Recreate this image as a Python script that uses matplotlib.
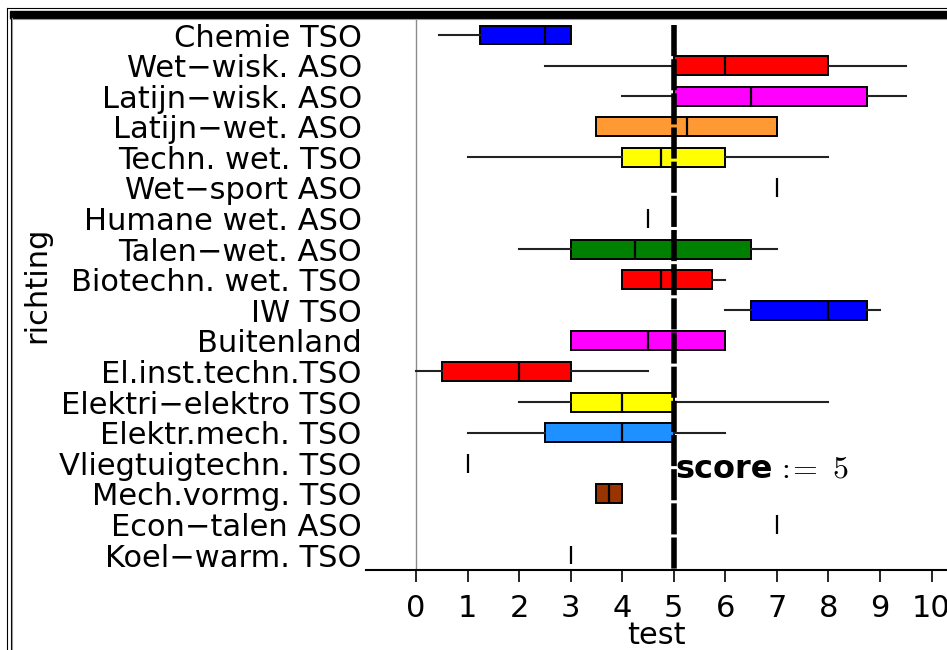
import matplotlib
matplotlib.use("Agg")
from matplotlib import pyplot as plt
from matplotlib.lines import Line2D
from matplotlib.patches import Rectangle

plt.rcParams['font.family'] = ['DejaVu Sans']
plt.rcParams['mathtext.fontset'] = 'cm'

# richtingen van boven naar onder
richting = ["Chemie TSO", "Wet−wisk. ASO", "Latijn−wisk. ASO", "Latijn−wet. ASO",
            "Techn. wet. TSO", "Wet−sport ASO", "Humane wet. ASO", "Talen−wet. ASO",
            "Biotechn. wet. TSO", "IW TSO", "Buitenland", "El.inst.techn.TSO",
            "Elektri−elektro TSO", "Elektr.mech. TSO", "Vliegtuigtechn. TSO",
            "Mech.vormg. TSO", "Econ−talen ASO", "Koel−warm. TSO"]

# vijf-getallen-samenvatting per richting (test score)
minimum = [0.45, 2.5, 4.0, 3.5, 1.0, 7, 4.5, 2.0, 4.0, 6.0, 3.0, 0.0, 2.0, 1.0, 1, 3.5, 7, 3]
q1      = [1.25, 5.0, 5.0, 3.5, 4.0, 7, 4.5, 3.0, 4.0, 6.5, 3.0, 0.5, 3.0, 2.5, 1, 3.5, 7, 3]
mediaan = [2.5, 6.0, 6.5, 5.25, 4.75, 7, 4.5, 4.25, 4.75, 8.0, 4.5, 2.0, 4.0, 4.0, 1, 3.75, 7, 3]
q3      = [3.0, 8.0, 8.75, 7.0, 6.0, 7, 4.5, 6.5, 5.75, 8.75, 6.0, 3.0, 5.0, 5.0, 1, 4.0, 7, 3]
maximum = [3.0, 9.5, 9.5, 7.0, 8.0, 7, 4.5, 7.0, 6.0, 9.0, 6.0, 4.5, 8.0, 6.0, 1, 4.0, 7, 3]

kleuren = ["#0000ff", "#ff0000", "#ff00ff", "#ff9933", "#ffff00", "white", "white",
           "#008000", "#ff0000", "#0000ff", "#ff00ff", "#ff0000", "#ffff00", "#1e90ff",
           "white", "#993300", "white", "white"]

score = 5

fig = plt.figure(figsize=(9.47, 6.5), dpi=100)
ax = fig.add_axes([366/947, 1-570/650, 1-366/947, 552/650])

stats = []
for i in range(len(richting)):
    stats.append({'label': richting[i], 'whislo': minimum[i], 'q1': q1[i], 'med': mediaan[i],
                  'q3': q3[i], 'whishi': maximum[i], 'fliers': []})

pos = list(range(len(richting)))
bp = ax.bxp(stats, positions=pos, widths=0.62, orientation='horizontal', patch_artist=True,
            showcaps=False, showfliers=False,
            boxprops=dict(edgecolor='black', linewidth=1.4),
            medianprops=dict(color='black', linewidth=1.6),
            whiskerprops=dict(color='#222222', linewidth=1.5))
for box, kl in zip(bp['boxes'], kleuren):
    box.set_facecolor(kl)

# grijze lijn bij 0 en de dikke stippellijn bij score
ax.axvline(0, color='0.55', lw=1, zorder=0)
ax.plot([score, score], [-0.33, 17.49], color='black', lw=4,
        linestyle=(0, (5.6, 0.55)), zorder=5, solid_capstyle='butt', dash_capstyle='butt')
ax.text(score + 0.03, 14.47, "score", fontsize=23, fontweight='bold', va='baseline', ha='left')
ax.text(6.98, 14.47, r"$:\!\!=\ 5$", fontsize=23, va='baseline', ha='left')

ax.set_xlim(-0.97, 10.30)
ax.set_ylim(17.49, -0.556)
ax.set_yticks(pos)
ax.set_yticklabels(richting)
ax.set_xticks(range(0, 11))
ax.tick_params(axis='y', length=0, pad=3, labelsize=22)
ax.tick_params(axis='x', direction='out', length=8.5, width=1.2, pad=9, labelsize=22)
for s in ['top', 'right', 'left']:
    ax.spines[s].set_visible(False)
ax.spines['bottom'].set_linewidth(1.5)
ax.set_xlabel("test", fontsize=22, labelpad=-2)
fig.text(37/947, 1-285/650, "richting", rotation=90, fontsize=22, ha='center', va='center')

# kader rond de figuur
fig.add_artist(Line2D([6.5/947, 1], [1-8/650, 1-8/650], color='black', lw=0.8, transform=fig.transFigure))
fig.add_artist(Line2D([6.5/947, 6.5/947], [0, 1-8/650], color='black', lw=0.8, transform=fig.transFigure))
fig.add_artist(Rectangle((10/947, 1-18/650), 1, 7/650, color='black', transform=fig.transFigure))
fig.add_artist(Line2D([10/947, 1], [1-18.5/650, 1-18.5/650], color='0.6', lw=0.8, transform=fig.transFigure))
fig.add_artist(Line2D([10.5/947, 10.5/947], [0, 1-11/650], color='black', lw=0.8, transform=fig.transFigure))
fig.add_artist(Line2D([12/947, 12/947], [0, 1-18/650], color='0.6', lw=0.8, transform=fig.transFigure))

fig.savefig("out.png", dpi=100)
